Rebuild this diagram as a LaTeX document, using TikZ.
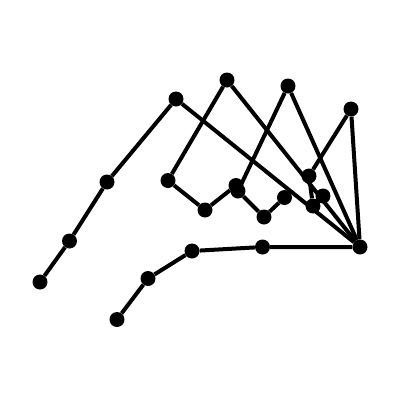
\documentclass[tikz,border=0pt]{standalone}
\begin{document}
\begin{tikzpicture}[x=1pt,y=-1pt,
  joint/.style={circle,fill=black,inner sep=0pt,minimum size=15pt},
  bone/.style={line width=4pt,black}]
\useasboundingbox (0,0) rectangle (400,400);
\node[joint] (w) at (360,247) {};
\node[joint] (t1) at (262.5,247) {};
\node[joint] (t2) at (192,251) {};
\node[joint] (t3) at (148,278.5) {};
\node[joint] (t4) at (117,319.5) {};
\node[joint] (a1) at (176,99) {};
\node[joint] (a2) at (107,182) {};
\node[joint] (a3) at (69.5,241) {};
\node[joint] (a4) at (40,282) {};
\node[joint] (b1) at (227,80) {};
\node[joint] (b2) at (168,180.5) {};
\node[joint] (b3) at (205,210) {};
\node[joint] (b4) at (236,185.5) {};
\node[joint] (c1) at (288,86) {};
\node[joint] (c2) at (238,191) {};
\node[joint] (c3) at (264,217) {};
\node[joint] (c4) at (284.5,197.5) {};
\node[joint] (d1) at (351,109) {};
\node[joint] (d2) at (309,176) {};
\node[joint] (d3) at (313,206) {};
\node[joint] (d4) at (323,196) {};
\draw[bone] (w) -- (t1) -- (t2) -- (t3) -- (t4);
\draw[bone] (w) -- (a1) -- (a2) -- (a3) -- (a4);
\draw[bone] (w) -- (b1) -- (b2) -- (b3) -- (b4);
\draw[bone] (w) -- (c1) -- (c2) -- (c3) -- (c4);
\draw[bone] (w) -- (d1) -- (d2) -- (d3) -- (d4);
\end{tikzpicture}
\end{document}
